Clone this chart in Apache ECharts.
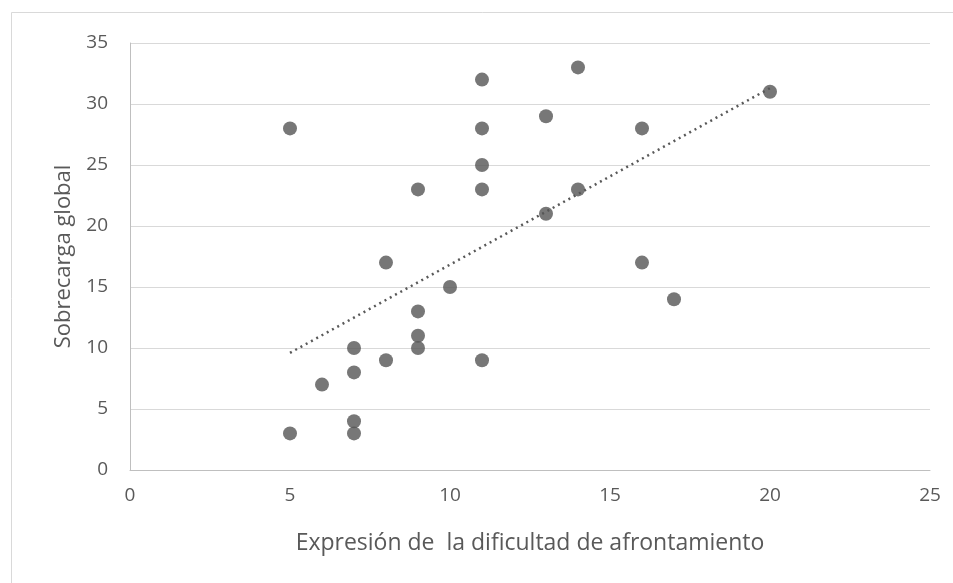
<!DOCTYPE html>
<html><head><meta charset="utf-8">
<script src="https://cdn.jsdelivr.net/npm/echarts@6/dist/echarts.min.js"></script>
<style>html,body{margin:0;padding:0;background:#fff}#c{width:953px;height:583px}</style>
</head><body><div id="c"></div>
<script>
const xValues = [5,5,6,7,7,7,7,8,8,9,9,9,9,10,11,11,11,11,11,13,13,14,14,16,16,17,20];
const yValues = [28,3,7,10,8,4,3,17,9,23,13,11,10,15,32,28,25,23,9,29,21,33,23,28,17,14,31];
const trendX = [5, 20];
const trendY = [9.6, 31.3];
const xTicks = [0,5,10,15,20,25];
const yTicks = [0,5,10,15,20,25,30,35];
const xTitle = 'Expresión de  la dificultad de afrontamiento';
const yTitle = 'Sobrecarga global';

const chart = echarts.init(document.getElementById('c'), null, {renderer:'canvas'});
const font = 'Open Sans, Lato, sans-serif';
chart.setOption({
  animation:false,
  backgroundColor:'#fff',
  graphic:[{type:'rect', shape:{x:11.5,y:12.5,width:960,height:600}, style:{fill:'none', stroke:'#d9d9d9', lineWidth:1}, silent:true, z:-1}],
  grid:{left:130, right:23, top:43, bottom:113},
  xAxis:{type:'value', min:xTicks[0], max:xTicks[xTicks.length-1], interval:5,
    name:xTitle, nameLocation:'middle', nameGap:62,
    nameTextStyle:{color:'#595959', fontSize:23, fontFamily:font},
    axisLine:{show:true, lineStyle:{color:'#bfbfbf', width:1}}, axisTick:{show:false},
    axisLabel:{color:'#595959', fontSize:19, fontFamily:font, margin:16},
    splitLine:{show:false}},
  yAxis:{type:'value', min:yTicks[0], max:yTicks[yTicks.length-1], interval:5,
    name:yTitle, nameLocation:'middle', nameGap:55,
    nameTextStyle:{color:'#595959', fontSize:22, fontFamily:font},
    axisLine:{show:true, lineStyle:{color:'#bfbfbf', width:1}}, axisTick:{show:false},
    axisLabel:{color:'#595959', fontSize:19, fontFamily:font, margin:22},
    splitLine:{show:true, lineStyle:{color:'#d9d9d9', width:1}}},
  series:[
    {type:'line', data:trendX.map((x,i)=>[x,trendY[i]]), symbol:'none',
     lineStyle:{color:'#595959', width:2.5, type:[2,4]}, z:2},
    {type:'scatter', data:xValues.map((x,i)=>[x,yValues[i]]), symbol:'circle', symbolSize:14,
     itemStyle:{color:'#555555'}, z:3}
  ]
});
</script></body></html>
